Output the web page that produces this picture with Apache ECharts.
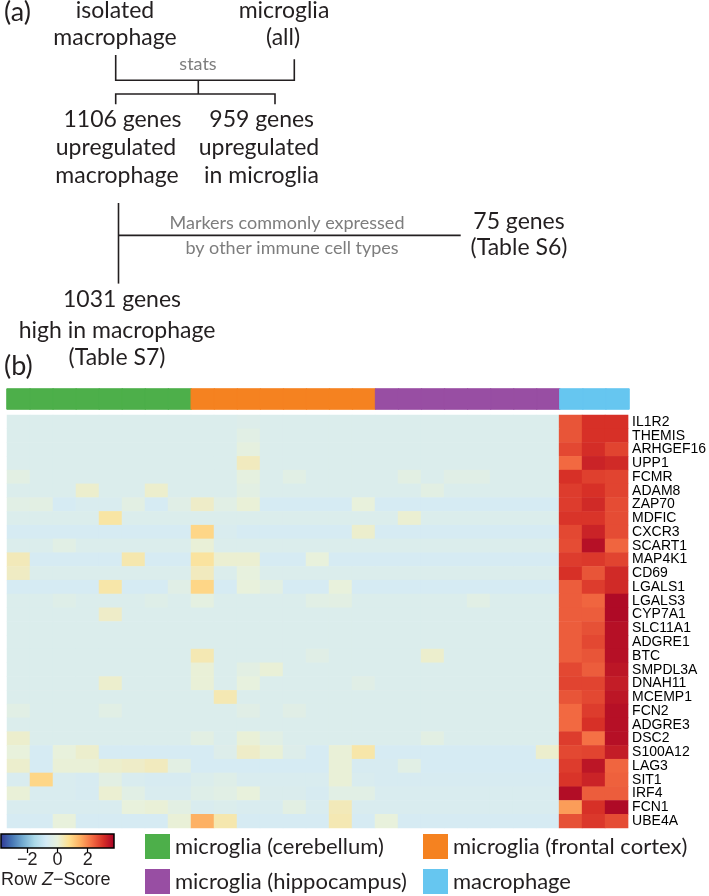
<!DOCTYPE html>
<html><head><meta charset="utf-8">
<script src="https://cdn.jsdelivr.net/npm/echarts@6/dist/echarts.min.js"></script>
<style>html,body{margin:0;padding:0;background:#fff}#c{width:709px;height:896px}</style>
</head><body><div id="c"></div>
<script>
// ---------------- data ----------------
const genes = ['IL1R2','THEMIS','ARHGEF16','UPP1','FCMR','ADAM8','ZAP70','MDFIC','CXCR3','SCART1',
  'MAP4K1','CD69','LGALS1','LGALS3','CYP7A1','SLC11A1','ADGRE1','BTC','SMPDL3A','DNAH11',
  'MCEMP1','FCN2','ADGRE3','DSC2','S100A12','LAG3','SIT1','IRF4','FCN1','UBE4A'];
const samples = ['Cb1','Cb2','Cb3','Cb4','Cb5','Cb6','Cb7','Cb8',
  'FC1','FC2','FC3','FC4','FC5','FC6','FC7','FC8',
  'Hp1','Hp2','Hp3','Hp4','Hp5','Hp6','Hp7','Hp8',
  'Mac1','Mac2','Mac3'];
const groupNames = ['microglia (cerebellum)','microglia (frontal cortex)','microglia (hippocampus)','macrophage'];
const sampleGroup = [0,0,0,0,0,0,0,0, 1,1,1,1,1,1,1,1, 2,2,2,2,2,2,2,2, 3,3,3];
const keyTicks = [-2, 0, 2];
const zMin = -3.75, zMax = 3.75;

// row z-scores (columns follow `samples`)
const IL1R2   = [-0.45,-0.45,-0.45,-0.45,-0.45,-0.45,-0.45,-0.45, -0.45,-0.45,-0.4,-0.45,-0.45,-0.45,-0.45,-0.45, -0.45,-0.45,-0.45,-0.45,-0.45,-0.45,-0.45,-0.45, 2.55,3.0,3.0];
const THEMIS  = [-0.45,-0.45,-0.45,-0.45,-0.45,-0.45,-0.45,-0.45, -0.45,-0.45,-0.25,-0.45,-0.45,-0.45,-0.45,-0.45, -0.45,-0.45,-0.45,-0.45,-0.45,-0.45,-0.45,-0.45, 2.55,3.0,3.0];
const ARHGEF16= [-0.45,-0.45,-0.45,-0.45,-0.45,-0.45,-0.45,-0.45, -0.45,-0.45,-0.1,-0.45,-0.45,-0.45,-0.45,-0.45, -0.45,-0.45,-0.45,-0.45,-0.45,-0.45,-0.45,-0.45, 2.7,3.05,2.75];
const UPP1    = [-0.45,-0.45,-0.45,-0.45,-0.45,-0.45,-0.45,-0.45, -0.45,-0.45,0.3,-0.45,-0.45,-0.45,-0.45,-0.45, -0.45,-0.45,-0.45,-0.45,-0.45,-0.45,-0.45,-0.45, 2.3,3.2,3.1];
const FCMR    = [-0.2,-0.45,-0.45,-0.45,-0.45,-0.45,-0.45,-0.45, -0.45,-0.45,-0.1,-0.45,-0.25,-0.45,-0.45,-0.45, -0.45,-0.2,-0.45,-0.3,-0.3,-0.45,-0.45,-0.45, 3.0,2.8,2.75];
const ADAM8   = [-0.45,-0.45,-0.45,0.15,-0.45,-0.45,0.15,-0.45, -0.45,-0.45,-0.2,-0.45,-0.45,-0.45,-0.45,-0.45, -0.45,-0.45,-0.2,-0.45,-0.45,-0.45,-0.45,-0.45, 2.85,3.0,2.75];
const ZAP70   = [-0.25,-0.2,-0.65,-0.55,-0.55,-0.2,-0.65,-0.3, 0.2,-0.25,0.05,-0.65,-0.65,-0.65,-0.65,0.0, -0.65,-0.65,-0.65,-0.65,-0.65,-0.65,-0.65,-0.65, 2.85,3.1,2.65];
const MDFIC   = [-0.45,-0.45,-0.45,-0.45,0.55,-0.45,-0.45,-0.45, -0.45,-0.45,-0.45,-0.45,-0.45,-0.45,-0.45,-0.45, -0.45,0.1,-0.45,-0.45,-0.45,-0.45,-0.45,-0.45, 2.95,2.95,2.65];
const CXCR3   = [-0.65,-0.65,-0.65,-0.65,-0.65,-0.65,-0.65,-0.65, 0.9,-0.55,-0.65,-0.65,-0.65,-0.65,-0.65,0.15, -0.65,-0.65,-0.65,-0.65,-0.65,-0.65,-0.65,-0.65, 2.7,3.2,2.65];
const SCART1  = [-0.45,-0.45,-0.25,-0.45,-0.45,-0.45,-0.45,-0.45, 0.05,-0.45,-0.45,-0.45,-0.45,-0.45,-0.45,-0.45, -0.45,-0.45,-0.45,-0.45,-0.45,-0.45,-0.45,-0.45, 2.65,3.5,2.35];
const MAP4K1  = [0.35,-0.65,-0.65,-0.65,-0.65,0.45,-0.65,-0.65, 0.6,0.1,0.1,-0.65,-0.65,0.0,-0.65,-0.65, -0.65,-0.65,-0.65,-0.65,-0.65,-0.65,-0.65,-0.65, 2.85,2.9,2.75];
const CD69    = [0.25,-0.45,-0.45,-0.45,-0.45,-0.45,-0.45,-0.45, 0.3,-0.45,-0.05,-0.45,-0.45,-0.45,-0.45,-0.45, -0.45,-0.45,-0.45,-0.45,-0.45,-0.45,-0.45,-0.45, 3.0,2.55,3.1];
const LGALS1  = [-0.65,-0.65,-0.65,-0.65,0.5,-0.65,-0.65,-0.3, 0.9,-0.65,0.0,-0.2,-0.65,-0.65,0.0,-0.65, -0.65,-0.65,-0.65,-0.65,-0.65,-0.65,-0.65,-0.65, 2.45,2.85,3.1];
const LGALS3  = [-0.45,-0.45,-0.35,-0.45,-0.45,-0.45,-0.35,-0.45, -0.15,-0.45,-0.45,-0.45,-0.45,-0.25,-0.2,-0.45, -0.45,-0.45,-0.45,-0.45,-0.25,-0.45,-0.45,-0.45, 2.45,2.35,3.6];
const CYP7A1  = [-0.45,-0.45,-0.45,-0.45,0.2,-0.45,-0.45,-0.45, -0.45,-0.45,-0.45,-0.45,-0.45,-0.45,-0.45,-0.45, -0.45,-0.45,-0.45,-0.45,-0.45,-0.45,-0.45,-0.45, 2.45,2.45,3.6];
const SLC11A1 = [-0.45,-0.45,-0.45,-0.45,-0.45,-0.45,-0.45,-0.45, -0.45,-0.45,-0.45,-0.45,-0.45,-0.45,-0.45,-0.45, -0.45,-0.45,-0.45,-0.45,-0.45,-0.45,-0.45,-0.45, 2.45,2.6,3.5];
const ADGRE1  = [-0.45,-0.45,-0.45,-0.45,-0.45,-0.45,-0.45,-0.45, -0.45,-0.45,-0.45,-0.45,-0.45,-0.45,-0.45,-0.45, -0.45,-0.45,-0.45,-0.45,-0.45,-0.45,-0.45,-0.45, 2.45,2.7,3.5];
const BTC     = [-0.45,-0.45,-0.45,-0.45,-0.45,-0.45,-0.45,-0.45, 0.4,-0.45,-0.45,-0.45,-0.45,-0.3,-0.45,-0.45, -0.45,-0.45,0.15,-0.45,-0.45,-0.45,-0.45,-0.45, 2.45,2.55,3.5];
const SMPDL3A = [-0.45,-0.45,-0.45,-0.45,-0.45,-0.45,-0.45,-0.45, 0.05,-0.45,-0.2,0.05,-0.45,-0.45,-0.45,-0.45, -0.45,-0.45,-0.45,-0.45,-0.45,-0.45,-0.45,-0.45, 2.7,2.45,3.4];
const DNAH11  = [-0.45,-0.45,-0.45,-0.45,0.15,-0.45,-0.45,-0.45, 0.05,-0.45,-0.05,-0.45,-0.45,-0.45,-0.45,-0.3, -0.45,-0.45,-0.45,-0.45,-0.45,-0.45,-0.45,-0.45, 2.75,2.75,3.3];
const MCEMP1  = [-0.45,-0.45,-0.45,-0.45,-0.45,-0.45,-0.45,-0.45, -0.45,0.4,-0.45,-0.45,-0.45,-0.45,-0.45,-0.45, -0.45,-0.45,-0.45,-0.45,-0.45,-0.45,-0.45,-0.45, 2.55,2.7,3.4];
const FCN2    = [-0.25,-0.45,-0.45,-0.45,-0.25,-0.45,-0.45,-0.45, -0.45,-0.45,-0.3,-0.45,-0.3,-0.45,-0.45,-0.45, -0.45,-0.45,-0.45,-0.45,-0.45,-0.45,-0.45,-0.45, 2.3,2.85,3.5];
const ADGRE3  = [-0.45,-0.45,-0.45,-0.45,-0.45,-0.45,-0.45,-0.45, -0.45,-0.45,-0.45,-0.45,-0.45,-0.45,-0.45,-0.45, -0.45,-0.45,-0.45,-0.45,-0.45,-0.45,-0.45,-0.45, 2.3,3.0,3.5];
const DSC2    = [0.15,-0.45,-0.45,-0.45,-0.45,-0.45,-0.45,-0.45, -0.2,-0.45,0.05,-0.25,-0.45,-0.45,-0.45,-0.45, -0.45,-0.45,-0.2,-0.45,-0.45,-0.45,-0.45,-0.45, 2.85,2.2,3.5];
const S100A12 = [0.0,-0.65,0.0,0.15,-0.65,-0.65,-0.65,-0.65, -0.65,-0.4,0.2,0.05,-0.4,-0.65,0.05,0.5, -0.65,-0.65,-0.65,-0.65,-0.65,-0.65,-0.65,0.15, 2.7,2.75,3.3];
const LAG3    = [0.15,-0.65,0.05,0.05,0.15,0.2,0.3,-0.2, -0.65,-0.65,-0.65,-0.65,-0.65,-0.65,0.05,-0.6, -0.6,-0.25,-0.65,-0.65,-0.65,-0.65,-0.65,-0.65, 2.85,3.4,2.35];
const SIT1    = [-0.55,0.9,-0.55,-0.6,-0.2,-0.55,-0.6,-0.6, -0.45,-0.35,-0.55,-0.55,-0.55,-0.55,0.05,-0.55, -0.6,-0.6,-0.6,-0.6,-0.6,-0.6,-0.6,-0.6, 2.95,3.2,2.4];
const IRF4    = [0.05,-0.55,-0.55,-0.6,0.1,-0.25,-0.55,-0.55, -0.35,-0.25,0.0,-0.5,-0.5,-0.6,-0.25,-0.25, -0.55,-0.55,-0.55,-0.55,-0.55,-0.55,-0.55,-0.55, 3.55,2.45,2.45];
const FCN1    = [-0.55,-0.55,-0.55,-0.55,-0.55,0.0,0.05,-0.2, -0.55,-0.45,-0.55,-0.55,-0.2,-0.55,0.35,-0.55, -0.55,-0.55,-0.55,-0.55,-0.55,-0.55,-0.55,-0.55, 1.7,3.0,3.6];
const UBE4A   = [-0.65,-0.65,0.0,-0.65,-0.65,-0.65,-0.65,0.05, 1.45,0.45,-0.65,-0.65,-0.65,-0.65,0.4,-0.65, 0.0,-0.65,-0.65,-0.65,-0.65,-0.65,-0.65,-0.65, 2.6,2.9,2.65];

const rowsZ = [IL1R2,THEMIS,ARHGEF16,UPP1,FCMR,ADAM8,ZAP70,MDFIC,CXCR3,SCART1,
  MAP4K1,CD69,LGALS1,LGALS3,CYP7A1,SLC11A1,ADGRE1,BTC,SMPDL3A,DNAH11,
  MCEMP1,FCN2,ADGRE3,DSC2,S100A12,LAG3,SIT1,IRF4,FCN1,UBE4A];

// ---------------- styles ----------------
const groupColors = ['#4DAF4A','#F58220','#984EA3','#66C6F0'];
const palette = ['#313695','#4575B4','#74ADD1','#ABD9E9','#D3EAF6','#E8F1DC','#FEE090','#FDAE61','#F46D43','#D73027','#A50026'];
const INK = '#231F20', GREY = '#7d7d7d';
const MAIN_FONT = 'Lato, "Open Sans", sans-serif';
const ARIAL = '"Liberation Sans", Arial, sans-serif';
const NARROW = '"Liberation Sans Narrow", "Arial Narrow", "Liberation Sans", Arial, sans-serif';

const heatData = [];
rowsZ.forEach((row, r) => row.forEach((v, c) => heatData.push([c, r, v])));
const bandData = sampleGroup.map((g, c) => ({
  value: [c, 0, g],
  itemStyle: { borderColor: groupColors[g], borderWidth: 1 }
}));

// empty series that only carry the legend swatches
const legendSeries = groupNames.map((name, g) => ({
  name, type: 'bar', xAxisIndex: 1, yAxisIndex: 1, data: [], silent: true,
  itemStyle: { color: groupColors[g] }
}));

// ---------------- panel (a) diagram ----------------
function txt(s, x, baseline, size, color, align) {
  return { type: 'text', x: x, y: baseline - 0.387 * size, silent: true,
    style: { text: s, fill: color || INK, font: size + 'px ' + MAIN_FONT,
      textAlign: align || 'center', textVerticalAlign: 'middle' } };
}
function pl(points) {
  return { type: 'polyline', silent: true, shape: { points },
    style: { stroke: INK, lineWidth: 1.6, fill: null } };
}
const diagram = [
  txt('(a)', 4, 23, 27, INK, 'left'),
  txt('isolated', 115, 19.5, 23), txt('macrophage', 115, 46.5, 23),
  txt('microglia', 284, 19.5, 23), txt('(all)', 283, 46.5, 23),
  pl([[115.7,55],[115.7,80.3],[294.3,80.3],[294.3,59.3]]),
  txt('stats', 198, 71.5, 18, GREY),
  pl([[198.3,80.3],[198.3,94]]),
  pl([[115.7,104.3],[115.7,94],[275,94],[275,104.3]]),
  txt('1106 genes', 122.5, 128.3, 23), txt('upregulated', 116, 156.5, 23), txt('macrophage', 117, 184.3, 23),
  txt('959 genes', 261.7, 128.3, 23), txt('upregulated', 259, 156.5, 23), txt('in microglia', 261.5, 184.3, 23),
  pl([[118.5,203],[118.5,283.6]]),
  pl([[118.5,235.4],[460.7,235.4]]),
  txt('Markers commonly expressed', 287, 230, 18, GREY),
  txt('by other immune cell types', 292, 255, 18, GREY),
  txt('75 genes', 519, 230, 23), txt('(Table S6)', 519, 256, 23),
  txt('1031 genes', 122, 308.6, 23), txt('high in macrophage', 117, 339, 23), txt('(Table S7)', 117, 366, 23),
  txt('(b)', 4, 377, 27, INK, 'left')
];

// colour key graphics
const keyRect = { type: 'rect', silent: true, z: 0,
  shape: { x: 1, y: 834, width: 113, height: 14 },
  style: { stroke: '#000', lineWidth: 1.5,
    fill: new echarts.graphic.LinearGradient(0, 0, 1, 0,
      palette.map((c, i) => ({ offset: i / (palette.length - 1), color: c }))) } };
const keyTitle = { type: 'text', x: 1, y: 880, silent: true,
  style: { text: '{n|Row }{i|Z}{n|\u2212Score}', textVerticalAlign: 'middle',
    rich: { n: { font: '18px ' + ARIAL, fill: INK }, i: { font: 'italic 18px ' + ARIAL, fill: INK } } } };

const legendCommon = { orient: 'vertical', padding: 0, itemWidth: 25, itemHeight: 25, itemGap: 10,
  icon: 'rect', selectedMode: false, height: 62,
  textStyle: { fontSize: 22, lineHeight: 25, fontFamily: MAIN_FONT, color: INK } };

const chart = echarts.init(document.getElementById('c'), null, { renderer: 'canvas', width: 709, height: 896 });
chart.setOption({
  animation: false,
  backgroundColor: '#fff',
  grid: [
    { left: 7, top: 415, width: 622, height: 413 },
    { left: 7, top: 389, width: 622, height: 20 },
    { left: 1, top: 834, width: 113, height: 14 }
  ],
  xAxis: [
    { type: 'category', data: samples, gridIndex: 0, show: false },
    { type: 'category', data: samples, gridIndex: 1, show: false },
    { type: 'value', gridIndex: 2, min: zMin, max: zMax,
      axisLine: { show: false }, splitLine: { show: false },
      axisTick: { show: true, customValues: keyTicks, length: 5, lineStyle: { color: '#000', width: 1.2 } },
      axisLabel: { customValues: keyTicks, margin: 3, fontSize: 18, color: INK, fontFamily: ARIAL,
        formatter: v => String(v).replace('-', '\u2212') } }
  ],
  yAxis: [
    { type: 'category', data: genes, gridIndex: 0, inverse: true, position: 'right',
      axisLine: { show: false }, axisTick: { show: false }, splitLine: { show: false },
      axisLabel: { interval: 0, margin: 4, fontSize: 14, color: '#000', fontFamily: NARROW } },
    { type: 'category', data: ['group'], gridIndex: 1, show: false },
    { type: 'value', gridIndex: 2, min: 0, max: 1, show: false }
  ],
  visualMap: [
    { type: 'continuous', min: zMin, max: zMax, show: false, seriesIndex: 0,
      inRange: { color: palette } },
    { type: 'piecewise', show: false, seriesIndex: 1, dimension: 2,
      pieces: groupColors.map((c, g) => ({ value: g, color: c })) }
  ],
  legend: [
    Object.assign({ data: [groupNames[0], groupNames[2]], left: 145, top: 834 }, legendCommon),
    Object.assign({ data: [groupNames[1], groupNames[3]], left: 423, top: 834 }, legendCommon)
  ],
  graphic: diagram.concat([keyRect, keyTitle]),
  series: [
    { type: 'heatmap', xAxisIndex: 0, yAxisIndex: 0, data: heatData, silent: true,
      emphasis: { disabled: true } },
    { type: 'heatmap', xAxisIndex: 1, yAxisIndex: 1, data: bandData, silent: true,
      emphasis: { disabled: true } }
  ].concat(legendSeries)
});
</script></body></html>
